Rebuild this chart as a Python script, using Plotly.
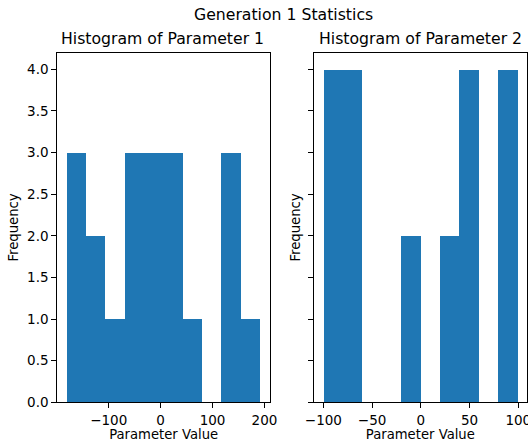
import plotly.graph_objects as go

# Data
p1_edges = [-180.5, -143.3, -106.0, -68.8, -31.5, 5.7, 43.0, 80.2, 117.5, 154.7, 192.0]
p1_counts = [3, 2, 1, 3, 3, 3, 1, 0, 3, 1]
p2_edges = [-100.0, -80.1, -60.2, -40.3, -20.4, -0.5, 19.4, 39.3, 59.2, 79.1, 99.0]
p2_counts = [4, 4, 0, 0, 2, 0, 2, 4, 0, 4]

title_main = "Generation 1 Statistics"
titles = ["Histogram of Parameter 1", "Histogram of Parameter 2"]
x_label = "Parameter Value"
y_label = "Frequency"

BLUE = "#1f77b4"
W, H = 528, 444
FONT = "DejaVu Sans, Arial, sans-serif"


def centers(edges):
    return [(a + b) / 2 for a, b in zip(edges[:-1], edges[1:])]


def widths(edges):
    return [b - a for a, b in zip(edges[:-1], edges[1:])]


fig = go.Figure()
fig.add_trace(go.Bar(x=centers(p1_edges), y=p1_counts, width=widths(p1_edges),
                     marker=dict(color=BLUE, line=dict(width=0)),
                     xaxis="x", yaxis="y", showlegend=False, hoverinfo="skip"))
fig.add_trace(go.Bar(x=centers(p2_edges), y=p2_counts, width=widths(p2_edges),
                     marker=dict(color=BLUE, line=dict(width=0)),
                     xaxis="x2", yaxis="y2", showlegend=False, hoverinfo="skip"))

# pixel geometry of axes
L1, R1 = 57.3, 270.0
L2, R2 = 313.7, 527.0
TOP, BOT = 52.7, 402.3

def px_x(p):
    return p / W

def px_y(p):
    return 1 - p / H

axis_common = dict(showline=True, linecolor="black", linewidth=1, mirror=True,
                   ticks="outside", ticklen=5, tickwidth=1, tickcolor="black",
                   showgrid=False, zeroline=False, automargin=False,
                   ticklabeloverflow="allow",
                   tickfont=dict(family=FONT, size=13.5, color="black"))

TF = dict(family=FONT, size=13.2)
dom_y = [px_y(BOT), px_y(TOP)]
fig.update_layout(
    width=W, height=H,
    margin=dict(l=0, r=0, t=0, b=0),
    paper_bgcolor="white", plot_bgcolor="white",
    bargap=0,
    font=dict(family=FONT, color="black"),
    xaxis=dict(domain=[px_x(L1), px_x(R1)], range=[-199.1, 210.6], anchor="y",
               tickvals=[-100, 0, 100, 200],
               title=dict(text=x_label, font=TF, standoff=3),
               **axis_common),
    yaxis=dict(domain=dom_y, range=[0, 4.2], anchor="x",
               tickvals=[0, 0.5, 1, 1.5, 2, 2.5, 3, 3.5, 4], tickformat=".1f",
               title=dict(text=y_label, font=TF, standoff=5),
               **axis_common),
    xaxis2=dict(domain=[px_x(L2), px_x(R2)], range=[-109.95, 108.95], anchor="y2",
                tickvals=[-100, -50, 0, 50, 100],
                title=dict(text=x_label, font=TF, standoff=3),
                **axis_common),
    yaxis2=dict(domain=dom_y, range=[0, 4.2], anchor="x2",
                tickvals=[0, 0.5, 1, 1.5, 2, 2.5, 3, 3.5, 4], showticklabels=False,
                title=dict(text=y_label, font=TF, standoff=4),
                **axis_common),
    annotations=[
        dict(text=title_main, x=283.5 / W, y=px_y(15), xref="paper", yref="paper",
             showarrow=False, xanchor="center", yanchor="middle",
             font=dict(family=FONT, size=15.7, color="black")),
        dict(text=titles[0], x=(L1 + R1) / 2 / W - 1.5 / W, y=px_y(39), xref="paper", yref="paper",
             showarrow=False, xanchor="center", yanchor="middle",
             font=dict(family=FONT, size=15.7, color="black")),
        dict(text=titles[1], x=(L2 + R2) / 2 / W, y=px_y(39), xref="paper", yref="paper",
             showarrow=False, xanchor="center", yanchor="middle",
             font=dict(family=FONT, size=15.7, color="black")),
    ],
)

fig.write_html("out.html", post_script="document.body.style.margin='0';",
               config={"displayModeBar": False})
